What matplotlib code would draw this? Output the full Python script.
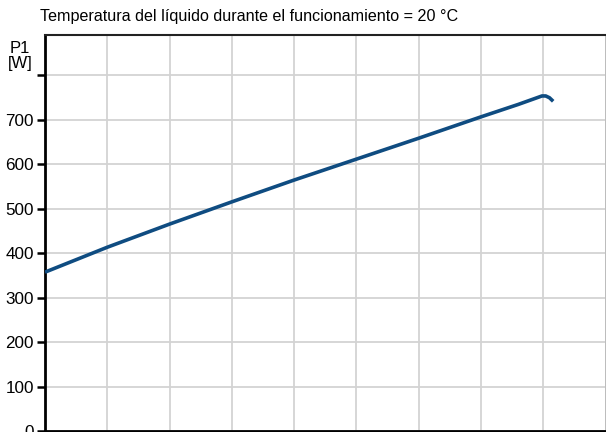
import matplotlib
matplotlib.use("Agg")
import matplotlib.pyplot as plt

plt.rcParams['font.family'] = ['Liberation Sans', 'DejaVu Sans']

# datos (eje x sin etiquetas visibles)
caudal = [0, 1, 2, 3, 4, 5, 6, 7, 7.6, 7.9, 7.98, 8.04, 8.1, 8.16]
p1 = [357, 413, 465, 515, 564, 611, 658, 706, 734, 749, 753, 753, 749, 741]
y_ticks = [0, 100, 200, 300, 400, 500, 600, 700, 800]
y_labels = ['0', '100', '200', '300', '400', '500', '600', '700', '']

W, H = 606, 432
fig = plt.figure(figsize=(W / 100, H / 100), dpi=100)
ax = fig.add_axes([45 / W, 1 / H, (605.5 - 45) / W, (431 - 35) / H])

ax.plot(caudal, p1, color='#0f4c81', linewidth=2.6, solid_capstyle='butt',
        solid_joinstyle='round', zorder=3)

ax.set_xlim(0, 9)
ax.set_ylim(0, 890)
ax.set_xticks(range(0, 10))
ax.set_xticklabels([])
ax.set_yticks(y_ticks)
ax.set_yticklabels(y_labels, fontsize=12.3)
ax.tick_params(axis='y', length=6, width=1.8, color='black', pad=2)
ax.tick_params(axis='x', length=0)

ax.grid(True, color='#d3d3d3', linewidth=1.3)
ax.set_axisbelow(True)

for s in ['left', 'bottom']:
    ax.spines[s].set_linewidth(2)
    ax.spines[s].set_color('black')
ax.spines['top'].set_linewidth(1.5)
ax.spines['top'].set_color('#222222')
ax.spines['right'].set_color('#bbbbbb')
ax.spines['right'].set_linewidth(1.3)

fig.text(40 / W, 1 - 17 / H, 'Temperatura del líquido durante el funcionamiento = 20 °C',
         fontsize=11.6, va='center', ha='left')
fig.text(20 / W, 1 - 56 / H, 'P1\n[W]', fontsize=12, va='center', ha='center',
         linespacing=0.95)

fig.savefig('out.png', dpi=100)
